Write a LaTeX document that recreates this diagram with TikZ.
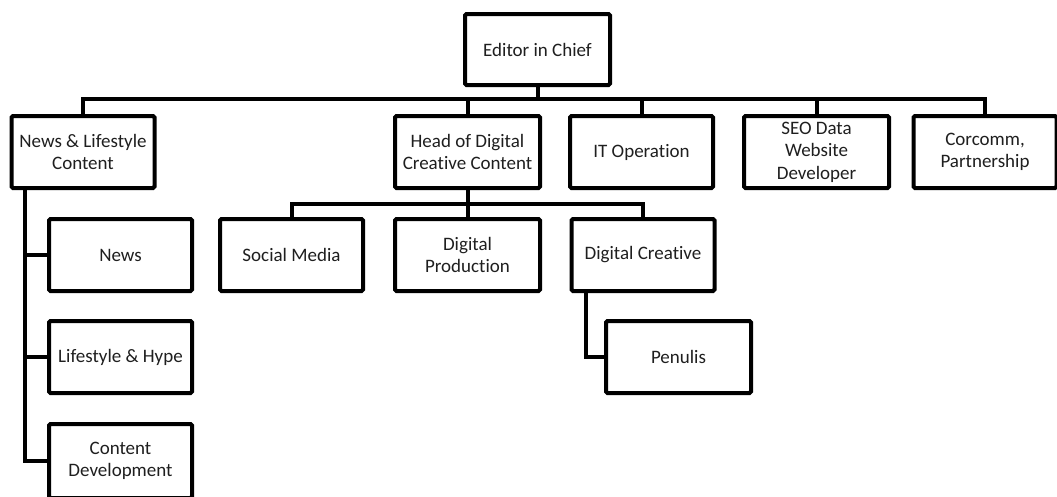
\documentclass[tikz,border=0pt]{standalone}
\usepackage{fontspec}
\setmainfont{Carlito}[Ligatures={NoCommon,NoContextual}]
\begin{document}
\begin{tikzpicture}[x=1pt,y=-1pt,
  box/.style={draw=black,line width=4pt,rounded corners=1.5pt,fill=white,
    minimum width=143pt,minimum height=72pt,inner sep=0pt,align=center,
    font=\fontsize{19}{22.5}\selectfont,text=black!88},
  link/.style={draw=black,line width=4pt}]
\useasboundingbox (0,0) rectangle (1057,496);
\coordinate (b1) at (0,99);
\coordinate (b2) at (0,204);
\coordinate (lv) at (25,0);
\coordinate (pv) at (586,0);
\node[box,minimum width=145pt,minimum height=71pt] (ed) at (537.5,49.5) {Editor in Chief};
\node[box] (nl) at (83,152) {News \& Lifestyle\\Content};
\node[box,minimum width=145pt] (hd) at (467.5,152) {Head of Digital\\Creative Content};
\node[box] (it) at (641.5,152) {IT Operation};
\node[box,minimum width=145pt] (seo) at (816.5,152) {SEO Data\\Website\\Developer};
\node[box] (cc) at (985,152) {Corcomm,\\Partnership};
\node[box] (news) at (120.5,255) {News};
\node[box] (life) at (120.5,357) {Lifestyle \& Hype};
\node[box,minimum height=74pt] (cd) at (120.5,461) {Content\\Development};
\node[box] (sm) at (291.5,255) {Social Media};
\node[box,minimum width=145pt] (dp) at (467.5,255) {Digital\\Production};
\node[box] (dc) at (643,255) {Digital Creative};
\node[box,minimum width=145pt] (pen) at (678.5,357) {Penulis};
\path[link] (ed.south) -- (ed.south |- b1) -| (nl.north);
\path[link] (ed.south |- b1) -| (hd.north);
\path[link] (ed.south |- b1) -| (it.north);
\path[link] (ed.south |- b1) -| (seo.north);
\path[link] (ed.south |- b1) -| (cc.north);
\path[link] (nl.south -| lv) |- (news.west);
\path[link] (nl.south -| lv) |- (life.west);
\path[link] (nl.south -| lv) |- (cd.west);
\path[link] (hd.south) -- (hd.south |- b2) -| (sm.north);
\path[link] (hd.south |- b2) -| (dp.north);
\path[link] (hd.south |- b2) -| (dc.north);
\path[link] (dc.south -| pv) |- (pen.west);
\end{tikzpicture}
\end{document}
